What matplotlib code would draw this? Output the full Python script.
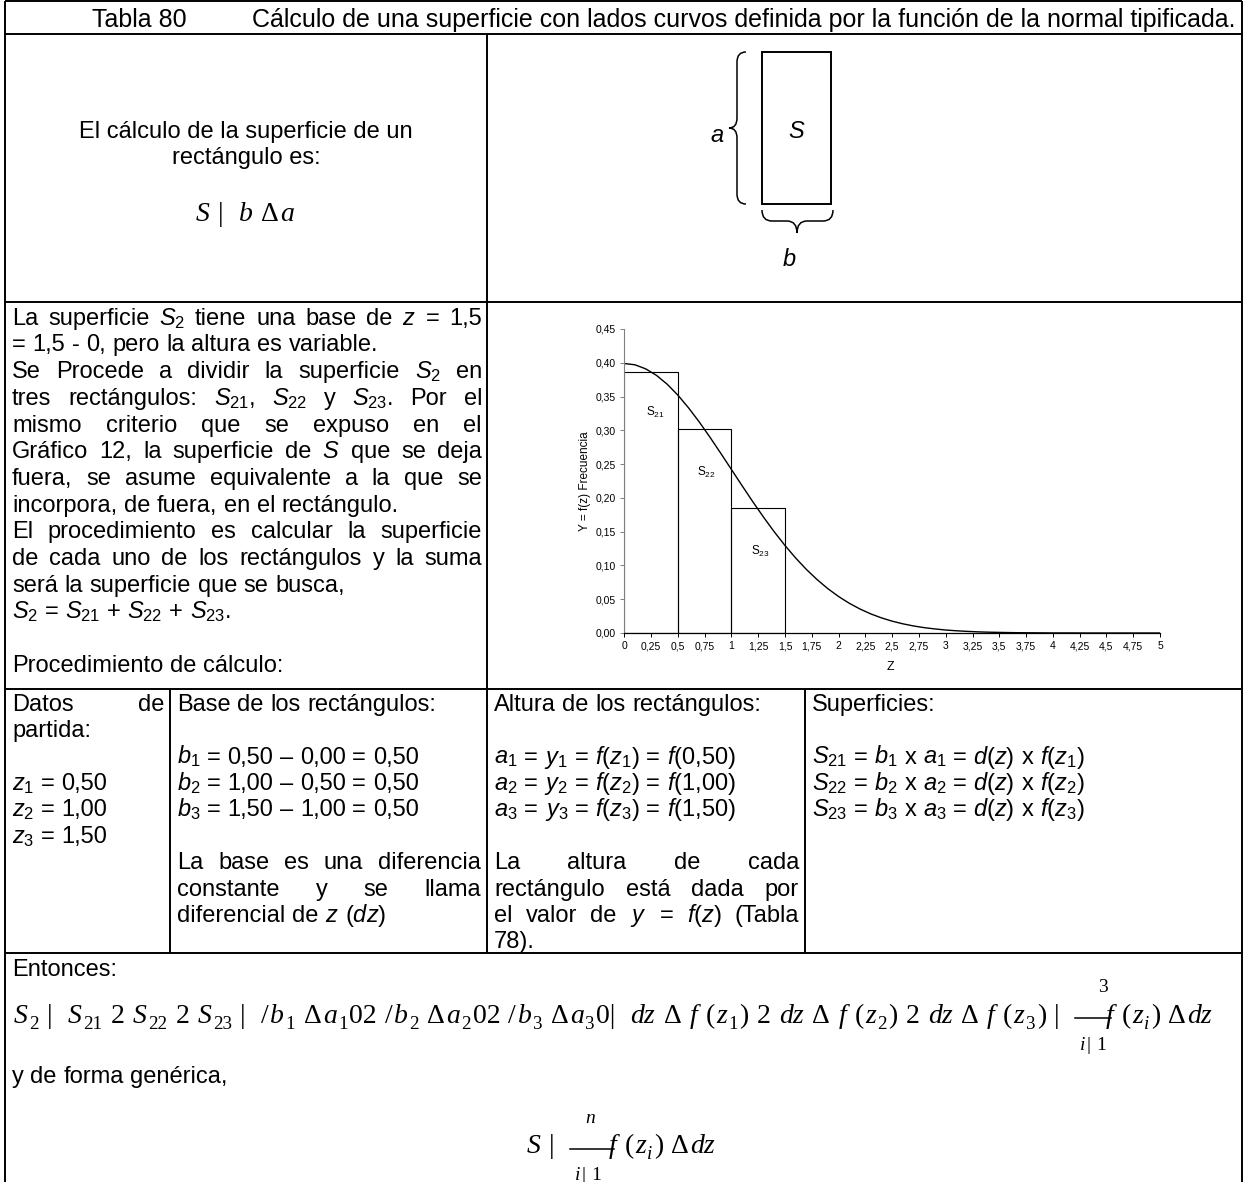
import numpy as np
import matplotlib
matplotlib.use("Agg")
import matplotlib.pyplot as plt
from matplotlib.path import Path
from matplotlib.patches import PathPatch

plt.rcParams['font.family'] = 'Liberation Sans'
plt.rcParams['mathtext.fontset'] = 'custom'
plt.rcParams['mathtext.rm'] = 'Liberation Sans'
plt.rcParams['mathtext.it'] = 'Liberation Sans:italic'
plt.rcParams['mathtext.bf'] = 'Liberation Sans:bold'

# -----------------------------
# Data
# -----------------------------
TITLE_NUM = "Tabla 80"
TITLE = "Cálculo de una superficie con lados curvos definida por la función de la normal tipificada."

# normal curve y = f(z)
Z = [0.0, 0.1, 0.2, 0.3, 0.4, 0.5, 0.6, 0.7, 0.8, 0.9,
     1.0, 1.1, 1.2, 1.3, 1.4, 1.5, 1.6, 1.7, 1.8, 1.9,
     2.0, 2.1, 2.2, 2.3, 2.4, 2.5, 2.6, 2.7, 2.8, 2.9,
     3.0, 3.1, 3.2, 3.3, 3.4, 3.5, 3.6, 3.7, 3.8, 3.9,
     4.0, 4.1, 4.2, 4.3, 4.4, 4.5, 4.6, 4.7, 4.8, 4.9, 5.0]
FZ = [0.3989, 0.3970, 0.3910, 0.3814, 0.3683, 0.3521, 0.3332, 0.3123, 0.2897, 0.2661,
      0.2420, 0.2179, 0.1942, 0.1714, 0.1497, 0.1295, 0.1109, 0.0940, 0.0790, 0.0656,
      0.0540, 0.0440, 0.0355, 0.0283, 0.0224, 0.0175, 0.0136, 0.0104, 0.0079, 0.0060,
      0.0044, 0.0033, 0.0024, 0.0017, 0.0012, 0.0009, 0.0006, 0.0004, 0.0003, 0.0002,
      0.0001, 0.0001, 0.0001, 0.0000, 0.0000, 0.0000, 0.0000, 0.0000, 0.0000, 0.0000, 0.0000]

RECT_LEFT = [0.0, 0.5, 1.0]
RECT_WIDTH = [0.5, 0.5, 0.5]
RECT_HEIGHT = [0.387, 0.302, 0.185]
RECT_NAMES = ["S$_{21}$", "S$_{22}$", "S$_{23}$"]

XTICKS = [0, 0.25, 0.5, 0.75, 1, 1.25, 1.5, 1.75, 2, 2.25, 2.5, 2.75,
          3, 3.25, 3.5, 3.75, 4, 4.25, 4.5, 4.75, 5]
XTICK_LABELS = ["0", "0,25", "0,5", "0,75", "1", "1,25", "1,5", "1,75", "2", "2,25", "2,5",
                "2,75", "3", "3,25", "3,5", "3,75", "4", "4,25", "4,5", "4,75", "5"]
YTICKS = [0, 0.05, 0.10, 0.15, 0.20, 0.25, 0.30, 0.35, 0.40, 0.45]
YTICK_LABELS = ["0,00", "0,05", "0,10", "0,15", "0,20", "0,25", "0,30", "0,35", "0,40", "0,45"]

TOP_LEFT = ["El cálculo de la superficie de un", "rectángulo es:"]

# (text, justified)
LEFT_LINES = [
    (r"La superficie $\mathit{S_2}$ tiene una base de $\mathit{z}$ = 1,5", True),
    ("= 1,5 - 0, pero la altura es variable.", False),
    (r"Se Procede a dividir la superficie $\mathit{S_2}$ en", True),
    (r"tres rectángulos: $\mathit{S_{21},}$ $\mathit{S_{22}}$ y $\mathit{S_{23}.}$ Por el", True),
    ("mismo criterio que se expuso en el", True),
    (r"Gráfico 12, la superficie de $\mathit{S}$ que se deja", True),
    ("fuera, se asume equivalente a la que se", True),
    ("incorpora, de fuera, en el rectángulo.", False),
    ("El procedimiento es calcular la superficie", True),
    ("de cada uno de los rectángulos y la suma", True),
    ("será la superficie que se busca,", False),
    (r"$\mathit{S_2}$ = $\mathit{S_{21}}$ + $\mathit{S_{22}}$ + $\mathit{S_{23}}$.", False),
    ("", False),
    ("Procedimiento de cálculo:", False),
]

# (row, text, justified)
COL1 = [(0, "Datos de", True), (1, "partida:", False),
        (3, r"$\mathit{z_1}$ = 0,50", False),
        (4, r"$\mathit{z_2}$ = 1,00", False),
        (5, r"$\mathit{z_3}$ = 1,50", False)]
COL2 = [(0, "Base de los rectángulos:", False),
        (2, r"$\mathit{b_1}$ = 0,50 – 0,00 = 0,50", False),
        (3, r"$\mathit{b_2}$ = 1,00 – 0,50 = 0,50", False),
        (4, r"$\mathit{b_3}$ = 1,50 – 1,00 = 0,50", False),
        (6, "La base es una diferencia", True),
        (7, "constante y se llama", True),
        (8, r"diferencial de $\mathit{z}$ ($\mathit{dz}$)", False)]
COL3 = [(0, "Altura de los rectángulos:", False),
        (2, r"$\mathit{a_1}$ = $\mathit{y_1}$ = $\mathit{f(z_1)}$ = $\mathit{f(}$0,50$\mathit{)}$", False),
        (3, r"$\mathit{a_2}$ = $\mathit{y_2}$ = $\mathit{f(z_2)}$ = $\mathit{f(}$1,00$\mathit{)}$", False),
        (4, r"$\mathit{a_3}$ = $\mathit{y_3}$ = $\mathit{f(z_3)}$ = $\mathit{f(}$1,50$\mathit{)}$", False),
        (6, "La altura de cada", True),
        (7, "rectángulo está dada por", True),
        (8, r"el valor de $\mathit{y}$ = $\mathit{f(z)}$ (Tabla", True),
        (9, "78).", False)]
COL4 = [(0, "Superficies:", False),
        (2, r"$\mathit{S_{21}}$ = $\mathit{b_1}$ x $\mathit{a_1}$ = $\mathit{d(z)}$ x $\mathit{f(z_1)}$", False),
        (3, r"$\mathit{S_{22}}$ = $\mathit{b_2}$ x $\mathit{a_2}$ = $\mathit{d(z)}$ x $\mathit{f(z_2)}$", False),
        (4, r"$\mathit{S_{23}}$ = $\mathit{b_3}$ x $\mathit{a_3}$ = $\mathit{d(z)}$ x $\mathit{f(z_3)}$", False)]

FORMULA_RECT = "S |  b Δa"
FORMULA_SUM3_LEFT = ("S_{2} |  S_{21} 2 S_{22} 2 S_{23} |  /b_{1} Δa_{1}02 /b_{2} Δa_{2}02 "
                     "/b_{3} Δa_{3}0|  dz Δ f (z_{1}) 2 dz Δ f (z_{2}) 2 dz Δ f (z_{3}) |")
FORMULA_SUM_RIGHT = "f (z_{i}) Δdz"
SUM3_TOP = "3"
SUMN_TOP = "n"
SUM_BOTTOM = "i| 1"

# -----------------------------
# Layout
# -----------------------------
BODY = 17
TITLE_SIZE = 18
SERIF = 20
W, H = 1245, 1182

fig = plt.figure(figsize=(W / 100, H / 100), dpi=100)
ax = fig.add_axes([0, 0, 1, 1])
ax.set_xlim(0, W)
ax.set_ylim(H, 0)
ax.axis('off')
renderer = fig.canvas.get_renderer()


def width_of(t):
    return t.get_window_extent(renderer=renderer).width


def put_line(x0, x1, yc, line, justify, size=BODY):
    words = line.split()
    if not words:
        return
    base = yc + 0.33 * size * 100 / 72
    objs = [ax.text(x0, base, w, fontsize=size, va='baseline') for w in words]
    widths = [width_of(o) for o in objs]
    gap = 0.28 * size * 100 / 72
    if justify and len(words) > 1:
        gap = (x1 - x0 - sum(widths)) / (len(words) - 1)
    x = x0
    for o, w in zip(objs, widths):
        o.set_x(x)
        x += w + gap


def serif_formula(x, yc, src, size=SERIF, center=False):
    em = size * 100 / 72
    base = yc + 0.3 * em
    chars = []
    i = 0
    while i < len(src):
        if src[i] == '_' and src[i + 1] == '{':
            j = src.index('}', i)
            chars += [(c, -1) for c in src[i + 2:j]]
            i = j + 1
            continue
        chars.append((src[i], 0))
        i += 1
    groups = []
    for c, lev in chars:
        kind = 'sp' if c == ' ' else ('it' if c.isascii() and c.isalpha() else 'rm')
        if groups and groups[-1][1] == kind and groups[-1][2] == lev:
            groups[-1][0] += c
        else:
            groups.append([c, kind, lev])
    objs = []
    cx = x
    for s, kind, lev in groups:
        if kind == 'sp':
            cx += 0.25 * em * len(s)
            continue
        fs = size * 0.68 if lev else size
        t = ax.text(cx, base + (0.2 * em if lev else 0), s, fontsize=fs,
                    family='Liberation Serif', style='italic' if kind == 'it' else 'normal',
                    va='baseline')
        objs.append(t)
        cx += width_of(t) + 0.05 * em
    if center:
        shift = (cx - x) / 2
        for t in objs:
            t.set_x(t.get_position()[0] - shift)
    return cx


def brace(points):
    verts, codes = [points[0]], [Path.MOVETO]
    for kind, pts in points[1:]:
        verts += pts
        codes += [Path.LINETO] if kind == 'L' else [Path.CURVE3, Path.CURVE3]
    ax.add_patch(PathPatch(Path(verts, codes), fill=False, lw=1.1, color='black'))


# table rules
LW = 1.4
ax.hlines([1, 34, 302, 689, 953], 5, 1242, color='black', lw=LW)
ax.vlines([5, 1242], 1, H, color='black', lw=LW)
ax.vlines(487, 34, 953, color='black', lw=LW)
ax.vlines([170, 805], 689, 953, color='black', lw=LW)

# title row
ax.text(92, 27, TITLE_NUM, fontsize=TITLE_SIZE, va='baseline')
ax.text(1236, 27, TITLE, fontsize=TITLE_SIZE, va='baseline', ha='right')

# rectangle area cell
for k, s in enumerate(TOP_LEFT):
    ax.text(246, 130 + 26 * k + 8, s, fontsize=BODY, va='baseline', ha='center')
serif_formula(246, 213, FORMULA_RECT, center=True)

# rectangle sketch with braces
ax.add_patch(plt.Rectangle((762, 52), 69, 152, fill=False, lw=1.4, color='black'))
ax.text(796, 132, "S", fontsize=BODY, style='italic', ha='center', va='center')
ax.text(717, 136, "a", fontsize=BODY, style='italic', ha='center', va='center')
ax.text(789, 260, "b", fontsize=BODY, style='italic', ha='center', va='center')
brace([(746, 52), ('C', [(737, 52), (737, 62)]), ('L', [(737, 118)]),
       ('C', [(737, 128), (729, 128)]), ('C', [(737, 128), (737, 138)]),
       ('L', [(737, 194)]), ('C', [(737, 204), (746, 204)])])
brace([(762, 210), ('C', [(762, 221), (772, 221)]), ('L', [(787, 221)]),
       ('C', [(797, 221), (797, 233)]), ('C', [(797, 221), (807, 221)]),
       ('L', [(823, 221)]), ('C', [(833, 221), (833, 210)])])

# left description cell
for k, s_j in enumerate(LEFT_LINES):
    put_line(12, 482, 317 + 26.7 * k, *s_j)

# procedure columns
ROW0, STEP = 703, 26.4
for (x0, x1), col in zip([(12, 164), (177, 481), (494, 799), (812, 1236)],
                         [COL1, COL2, COL3, COL4]):
    for r, s, just in col:
        put_line(x0, x1, ROW0 + STEP * r, s, just)

# bottom cell
put_line(12, 1236, 968, "Entonces:", False)
end = serif_formula(14, 1015, FORMULA_SUM3_LEFT)
x_sum = end + 14
ax.plot([x_sum, x_sum + 36], [1018, 1018], color='black', lw=1.1)
serif_formula(x_sum + 28, 986, SUM3_TOP, size=14, center=True)
serif_formula(x_sum + 18, 1044, SUM_BOTTOM, size=14, center=True)
serif_formula(x_sum + 30, 1015, FORMULA_SUM_RIGHT)

put_line(12, 1236, 1075, "y de forma genérica,", False)
end = serif_formula(527, 1145, "S |")
x_sum = end + 14
ax.plot([x_sum, x_sum + 44], [1149, 1149], color='black', lw=1.1)
serif_formula(x_sum + 20, 1117, SUMN_TOP, size=14, center=True)
serif_formula(x_sum + 18, 1174, SUM_BOTTOM, size=14, center=True)
serif_formula(x_sum + 38, 1145, FORMULA_SUM_RIGHT)

# -----------------------------
# Chart: normal curve and rectangles
# -----------------------------
x0_px, x5_px, y0_px, y45_px = 624.3, 1160.0, 633.0, 329.0
ax2 = fig.add_axes([x0_px / W, 1 - y0_px / H, (x5_px - x0_px) / W, (y0_px - y45_px) / H])
ax2.set_facecolor('none')
ax2.bar(RECT_LEFT, RECT_HEIGHT, width=RECT_WIDTH, align='edge', fill=False,
        edgecolor='black', lw=0.8)
ax2.plot(Z, FZ, color='black', lw=1.0)
label_xy = [(0.29, 0.327), (0.77, 0.237), (1.27, 0.120)]
for name, (lx, ly) in zip(RECT_NAMES, label_xy):
    ax2.text(lx, ly, name, fontsize=8.5, ha='center', va='center')
ax2.set_xlim(0, 5)
ax2.set_ylim(0, 0.45)
ax2.set_xticks(XTICKS)
ax2.set_xticklabels(XTICK_LABELS)
ax2.set_yticks(YTICKS)
ax2.set_yticklabels(YTICK_LABELS)
ax2.tick_params(axis='both', labelsize=7.5, length=3, width=0.7, pad=3)
ax2.tick_params(axis='y', colors='#808080', labelcolor='black')
for side in ['top', 'right']:
    ax2.spines[side].set_visible(False)
ax2.spines['left'].set_color('#808080')
ax2.spines['left'].set_linewidth(0.8)
ax2.spines['bottom'].set_linewidth(0.9)
ax2.text(-(x0_px - 585) / (x5_px - x0_px), 0.5, "Y = f(z) Frecuencia", rotation=90,
         transform=ax2.transAxes, fontsize=8.5, ha='center', va='center')
ax2.text(0.496, -(667 - y0_px) / (y0_px - y45_px), "Z", transform=ax2.transAxes,
         fontsize=9, ha='center', va='center')

fig.savefig("out.png", dpi=100)
